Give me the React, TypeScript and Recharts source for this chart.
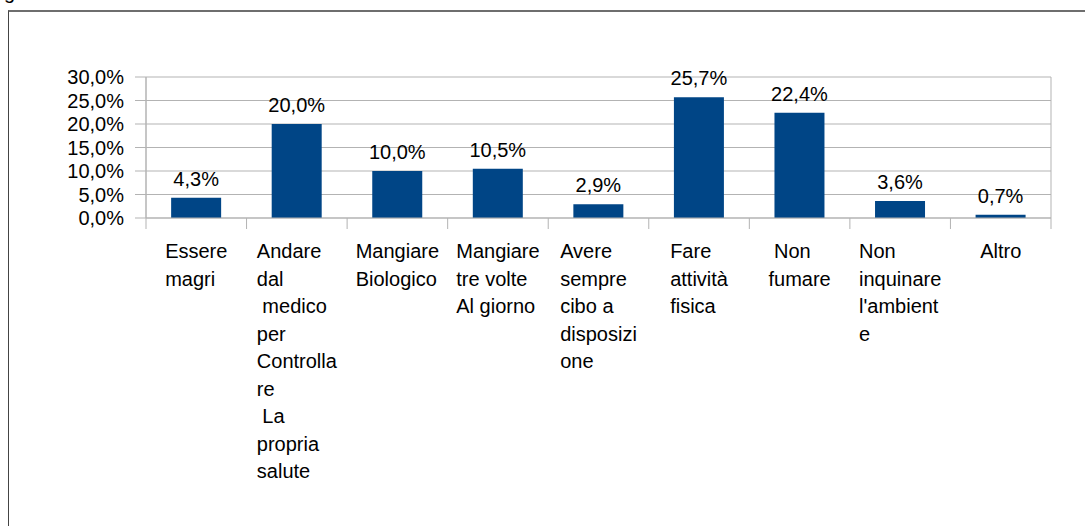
import React from "react";
import {
  BarChart,
  Bar,
  XAxis,
  YAxis,
  CartesianGrid,
  LabelList,
} from "recharts";

// category labels, one entry per line as in the original
const categories: string[][] = [
  ["Essere", "magri"],
  ["Andare", "dal", " medico", "per", "Controlla", "re", " La", "propria", "salute"],
  ["Mangiare", "Biologico"],
  ["Mangiare", "tre volte", "Al giorno"],
  ["Avere", "sempre", "cibo a", "disposizi", "one"],
  ["Fare", "attività", "fisica"],
  [" Non", "fumare"],
  ["Non", "inquinare", "l'ambient", "e"],
  ["Altro"],
];
const values = [4.3, 20.0, 10.0, 10.5, 2.9, 25.7, 22.4, 3.6, 0.7];
const yTicks = [0, 5, 10, 15, 20, 25, 30];

const data = categories.map((lines, i) => ({
  name: lines.join("\n"),
  value: values[i],
}));

const W = 1085;
const H = 526;
const PLOT_LEFT = 146;
const PLOT_RIGHT = 1051;
const PLOT_TOP = 77;
const PLOT_BOTTOM = 218;
const BAND = (PLOT_RIGHT - PLOT_LEFT) / categories.length;

const FONT = '"Liberation Sans", Arial, sans-serif';
const FONT_SIZE = 20;
const GRID = "#b3b3b3";

const fmt = (v: number) => v.toFixed(1).replace(".", ",") + "%";

let ctx: CanvasRenderingContext2D | null = null;
const measure = (s: string) => {
  if (!ctx) ctx = document.createElement("canvas").getContext("2d");
  if (!ctx) return s.length * 10;
  ctx.font = `${FONT_SIZE}px "Liberation Sans"`;
  return ctx.measureText(s).width;
};

// eslint-disable-next-line @typescript-eslint/no-explicit-any
const CategoryTick = (props: any) => {
  const { x, y, index, payload } = props;
  const lines: string[] = String(payload.value).split("\n");
  const blockW = Math.max(...lines.map(measure));
  const start = x - blockW / 2;
  return (
    <g>
      <line x1={x - BAND / 2} y1={y} x2={x - BAND / 2} y2={y + 11} stroke={GRID} />
      {index === categories.length - 1 && (
        <line x1={x + BAND / 2} y1={y} x2={x + BAND / 2} y2={y + 11} stroke={GRID} />
      )}
      <text
        fontFamily={FONT}
        fontSize={FONT_SIZE}
        fill="#000"
        textAnchor="start"
        style={{ whiteSpace: "pre" }}
      >
        {lines.map((l, i) => (
          <tspan key={i} x={start} y={y + 40 + i * 27.5}>
            {l}
          </tspan>
        ))}
      </text>
    </g>
  );
};

export default function App() {
  return (
    <div
      style={{
        position: "absolute",
        left: 0,
        top: 0,
        width: W,
        height: H,
        overflow: "hidden",
        background: "#fff",
        fontFamily: FONT,
      }}
    >
      <span
        style={{
          position: "absolute",
          left: 4,
          top: -17,
          fontSize: FONT_SIZE,
          lineHeight: "19px",
        }}
      >
        g
      </span>
      <div
        style={{
          position: "absolute",
          left: 8,
          top: 10,
          width: 1200,
          height: 700,
          borderLeft: "1px solid #444",
          borderTop: "2px solid #6e6e6e",
        }}
      />
      <div style={{ position: "absolute", left: 0, top: 0 }}>
        <BarChart
          width={W}
          height={H}
          data={data}
          margin={{ top: PLOT_TOP, right: W - PLOT_RIGHT, left: 0, bottom: 0 }}
          barCategoryGap="25%"
        >
          <CartesianGrid
            stroke={GRID}
            verticalPoints={[PLOT_LEFT, PLOT_RIGHT]}
          />
          <XAxis
            dataKey="name"
            height={H - PLOT_BOTTOM}
            tickLine={false}
            tickSize={0}
            tickMargin={0}
            axisLine={{ stroke: GRID }}
            interval={0}
            tick={<CategoryTick />}
          />
          <YAxis
            width={PLOT_LEFT}
            domain={[0, 30]}
            ticks={yTicks}
            interval={0}
            tickFormatter={fmt}
            tickSize={11}
            tickMargin={11}
            tickLine={{ stroke: GRID }}
            axisLine={{ stroke: GRID }}
            tick={{ fill: "#000", fontSize: FONT_SIZE, fontFamily: FONT }}
          />
          <Bar dataKey="value" fill="#004586" isAnimationActive={false}>
            <LabelList
              dataKey="value"
              position="top"
              offset={12}
              formatter={(v: number) => fmt(v)}
              fill="#000"
              fontSize={FONT_SIZE}
              fontFamily={FONT}
            />
          </Bar>
        </BarChart>
      </div>
    </div>
  );
}
